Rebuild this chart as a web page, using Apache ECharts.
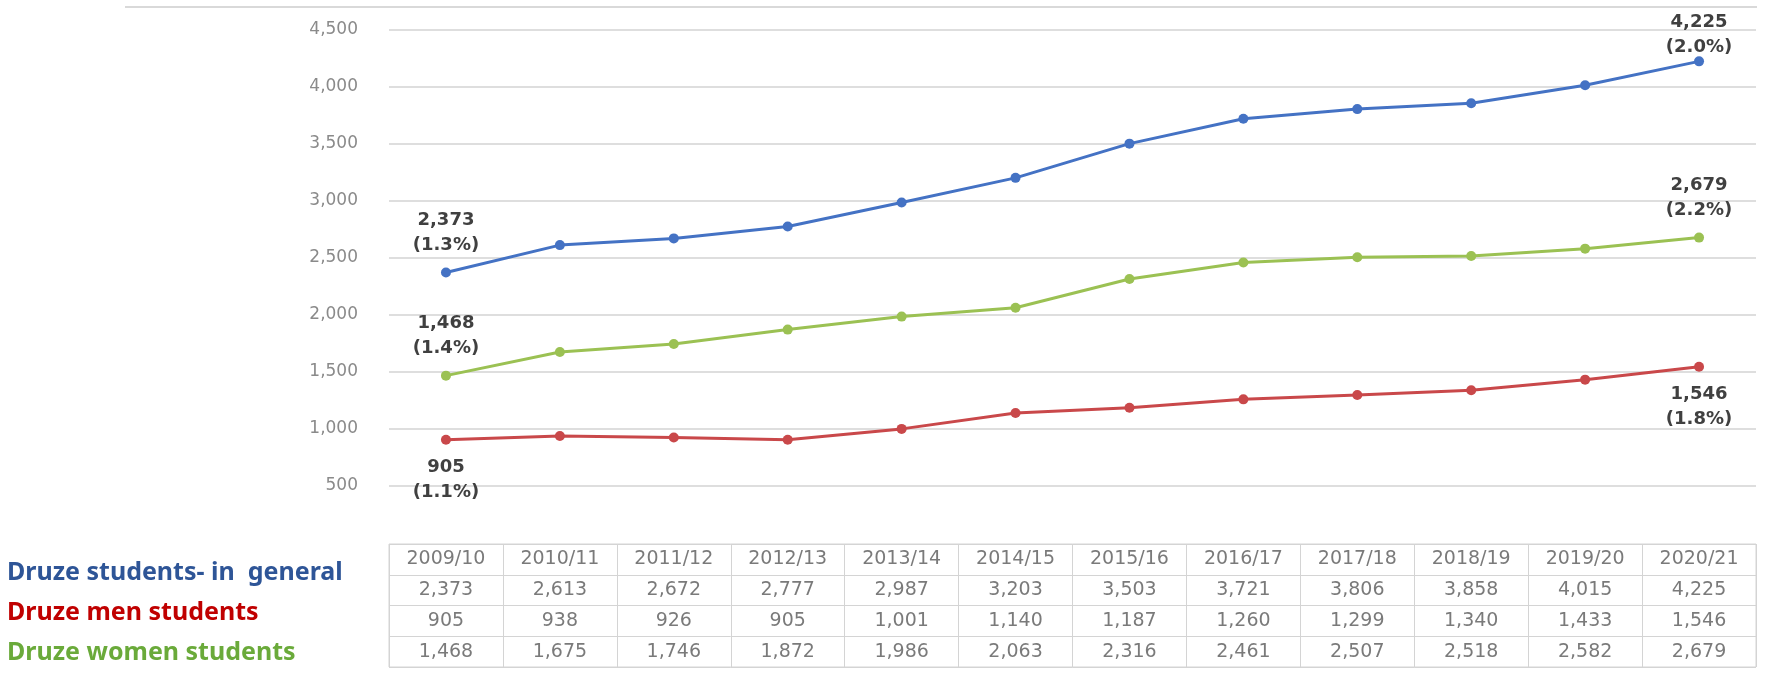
<!DOCTYPE html>
<html>
<head>
<meta charset="utf-8">
<script src="https://cdn.jsdelivr.net/npm/echarts@6/dist/echarts.min.js"></script>
<style>
html,body{margin:0;padding:0;background:#ffffff;}
#main{width:1772px;height:677px;}
</style>
</head>
<body>
<div id="main"></div>
<script>
// ---- data ----
const years = ['2009/10','2010/11','2011/12','2012/13','2013/14','2014/15','2015/16','2016/17','2017/18','2018/19','2019/20','2020/21'];
const generalStudents = [2373,2613,2672,2777,2987,3203,3503,3721,3806,3858,4015,4225];
const menStudents     = [905,938,926,905,1001,1140,1187,1260,1299,1340,1433,1546];
const womenStudents   = [1468,1675,1746,1872,1986,2063,2316,2461,2507,2518,2582,2679];
const generalShare = ['1.3%','2.0%'];   // first, last
const menShare     = ['1.1%','1.8%'];
const womenShare   = ['1.4%','2.2%'];
const seriesNames  = ['Druze students- in  general','Druze men students','Druze women students'];
const yTicks = [500,1000,1500,2000,2500,3000,3500,4000,4500];

// ---- styles ----
const lineColors   = ['#4472C4','#C9484A','#9BC153'];
const legendColors = ['#2E5597','#C00000','#6AAA3A'];
const fmt = v => String(v).replace(/\B(?=(\d{3})+(?!\d))/g, ',');

function buildData(values, share, pos, distances){
  const last = values.length - 1;
  return values.map((v,i)=>{
    if(i===0 || i===last){
      const s = i===0 ? share[0] : share[1];
      return {value:v, label:{show:true, position:pos[i===0?0:1], distance:distances[i===0?0:1],
        formatter: fmt(v)+'\n('+s+')'}};
    }
    return v;
  });
}

const labelStyle = {color:'#404040', fontFamily:'DejaVu Sans', fontWeight:'bold', fontSize:18, lineHeight:25};

// table cells
const tableRows = ['header','general','men','women'];
const tableValues = [years, generalStudents.map(fmt), menStudents.map(fmt), womenStudents.map(fmt)];
const cellData = [];
tableValues.forEach((row,r)=>row.forEach((t,c)=>cellData.push([c, r, t])));

const chart = echarts.init(document.getElementById('main'), null, {renderer:'canvas'});
const gridLeft = 389, gridRight = 16;

chart.setOption({
  backgroundColor:'#ffffff',
  animation:false,
  legend:{
    orient:'vertical', left:2, top:555, itemGap:15, itemWidth:0, itemHeight:0, icon:'rect',
    selectedMode:false,
    textStyle:{fontFamily:'Noto Sans', fontWeight:'bold', fontSize:25, padding:[0,0,0,-5]},
    data: seriesNames.map((n,i)=>({name:n, textStyle:{color:legendColors[i]}}))
  },
  graphic:[{type:'line', shape:{x1:125,y1:7,x2:1757,y2:7}, style:{stroke:'#d9d9d9', lineWidth:2}, silent:true}],
  grid:[
    {left:gridLeft, right:gridRight, top:30, height:456},
    {left:gridLeft, right:gridRight, top:544, height:123, show:true, borderColor:'#d4d4d4', borderWidth:1}
  ],
  xAxis:[
    {type:'category', gridIndex:0, data:years, boundaryGap:true,
     axisLine:{show:false}, axisTick:{show:false}, axisLabel:{show:false}},
    {type:'category', gridIndex:1, data:years, boundaryGap:true,
     axisLine:{show:false}, axisTick:{show:false}, axisLabel:{show:false},
     splitLine:{show:true, interval:0, lineStyle:{color:'#d4d4d4', width:1}}}
  ],
  yAxis:[
    {type:'value', gridIndex:0, min:yTicks[0], max:yTicks[yTicks.length-1], interval:yTicks[1]-yTicks[0],
     axisLine:{show:false}, axisTick:{show:false},
     axisLabel:{color:'#8a8a8a', fontFamily:'DejaVu Sans', fontSize:17, margin:31, formatter:v=>fmt(v)},
     splitLine:{lineStyle:{color:'#dedede', width:2}}},
    {type:'category', gridIndex:1, data:tableRows, inverse:true, boundaryGap:true,
     axisLine:{show:false}, axisTick:{show:false}, axisLabel:{show:false},
     splitLine:{show:true, interval:0, lineStyle:{color:'#d4d4d4', width:1}}}
  ],
  series:[
    {name:seriesNames[0], type:'line', xAxisIndex:0, yAxisIndex:0, symbol:'circle', symbolSize:10,
     lineStyle:{width:3, color:lineColors[0]}, itemStyle:{color:lineColors[0]}, label:labelStyle,
     data:buildData(generalStudents, generalShare, ['top','top'], [10,-3])},
    {name:seriesNames[1], type:'line', xAxisIndex:0, yAxisIndex:0, symbol:'circle', symbolSize:10,
     lineStyle:{width:3, color:lineColors[1]}, itemStyle:{color:lineColors[1]}, label:labelStyle,
     data:buildData(menStudents, menShare, ['bottom','bottom'], [10,10])},
    {name:seriesNames[2], type:'line', xAxisIndex:0, yAxisIndex:0, symbol:'circle', symbolSize:10,
     lineStyle:{width:3, color:lineColors[2]}, itemStyle:{color:lineColors[2]}, label:labelStyle,
     data:buildData(womenStudents, womenShare, ['top','top'], [10,10])},
    {name:'table', type:'scatter', xAxisIndex:1, yAxisIndex:1, symbolSize:1, silent:true,
     itemStyle:{color:'rgba(0,0,0,0)'},
     label:{show:true, position:'inside', color:'#595959', fontFamily:'DejaVu Sans', fontSize:19,
       formatter:p=>p.data[2]},
     data:cellData}
  ]
});
</script>
</body>
</html>
